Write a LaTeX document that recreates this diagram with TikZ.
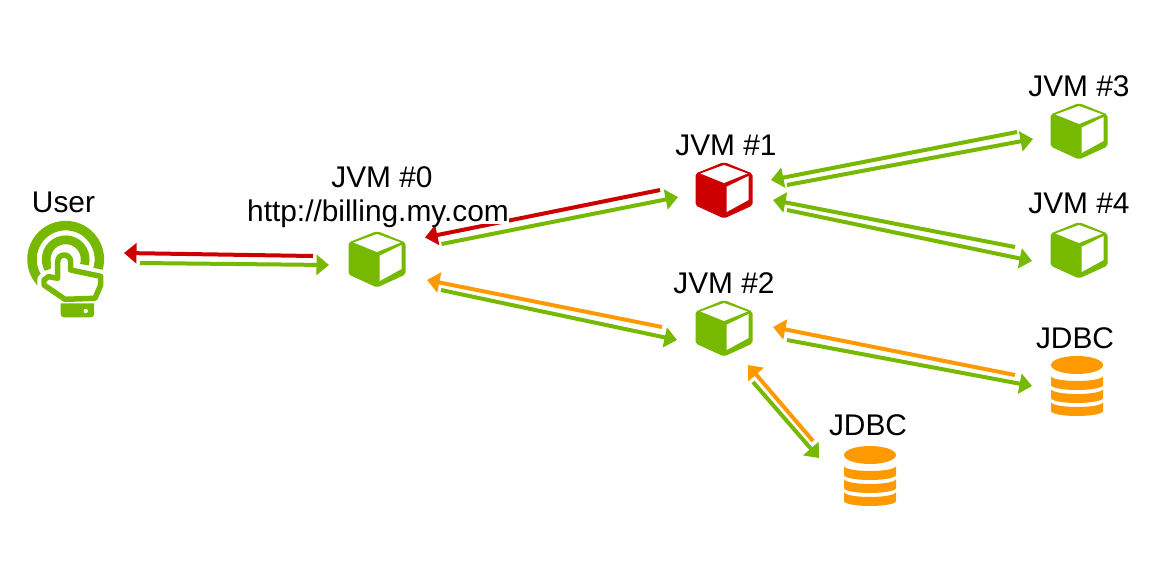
\documentclass[tikz,border=0pt]{standalone}
\usepackage{fontspec}
\setmainfont{Liberation Sans}
\usetikzlibrary{arrows.meta,calc}
\definecolor{nvgreen}{RGB}{118,185,0}
\definecolor{failred}{RGB}{204,0,0}
\definecolor{dbOrange}{RGB}{255,153,0}

\begin{document}
\begin{tikzpicture}[
  x=0.02cm,y=-0.02cm,
  iconbox/.style={inner sep=0pt,minimum size=1.1cm},
  caption/.style={font=\fontsize{17}{20}\selectfont,inner sep=0pt,text=black},
  link/.style={line width=0.08cm,-{Triangle[length=0.25cm,width=0.4cm]}},
  okline/.style={link,nvgreen},
  badline/.style={link,failred},
  slowline/.style={link,dbOrange},
  pics/cube/.style={code={
    \fill[#1,rounded corners=0.04cm] (0,-28) -- (28.5,-16.5) -- (28.5,15.5) -- (0,28.5) -- (-28.5,15.5) -- (-28.5,-16.5) -- cycle;
    \fill[white] (0,-25) -- (23.5,-16.5) -- (0,-7) -- (-23.5,-16.5) -- cycle;
    \fill[white] (2.7,-3.3) -- (24.5,-14) -- (24.5,10) -- (2.7,22) -- cycle;
  }},
  pics/dbstack/.style={code={
    \fill[dbOrange] (0,-21) ellipse [x radius=26,y radius=9];
    \foreach \s in {-10,3,16} {
      \fill[dbOrange] (-26,\s) arc [start angle=180,end angle=0,x radius=26,y radius=5]
        -- (26,\s+9) arc [start angle=0,end angle=180,x radius=26,y radius=5] -- cycle;
    }
  }},
  pics/touch/.style={code={
    \draw[nvgreen,line width=0.19cm] (130:33.7) arc [start angle=130,end angle=383,radius=33.7];
    \draw[nvgreen,line width=0.175cm] (149:19.5) arc [start angle=149,end angle=376,radius=19.5];
    % white halo, then the hand on top
    \def\handpath{(-8,15.7) -- (-8,2.2) arc [start angle=180,end angle=360,radius=6.5]
      -- (5,10.7) -- (35,17) -- (35,25.7) -- (29.3,39) -- (-0.7,40) -- (-21.7,25.7)
      -- (-21.7,20.7) -- (-17.3,17.3) -- (-8,19) -- cycle}
    \draw[white,fill=white,line width=0.27cm,line join=round] \handpath;
    \draw[nvgreen,fill=white,line width=0.11cm,line join=round] \handpath;
    \fill[nvgreen] (-5,44) -- (28.3,44) [rounded corners=0.06cm] -- (28.3,58) -- (-5,58) [sharp corners] -- cycle;
    \fill[white] (20,51.7) circle [radius=2.2];
  }}
]
\useasboundingbox (0,0) rectangle (1160,566);

% Icons
\node[iconbox] (user) at (65.7,259.3) {};
\node[iconbox] (jvm0) at (377,259) {};
\node[iconbox] (jvm1) at (724,190) {};
\node[iconbox] (jvm2) at (724,328) {};
\node[iconbox] (jvm3) at (1079,131) {};
\node[iconbox] (jvm4) at (1079,250) {};
\node[iconbox] (jdbc1) at (1077,386) {};
\node[iconbox] (jdbc2) at (870,476) {};

\pic at (user) {touch};
\pic at (jvm0) {cube=nvgreen};
\pic at (jvm1) {cube=failred};
\foreach \n in {jvm2,jvm3,jvm4} {
  \pic at (\n) {cube=nvgreen};
}
\foreach \n in {jdbc1,jdbc2} {
  \pic at (\n) {dbstack};
}

% Labels
\node[caption] (userlabel) at (63.5,202) {User};
\node[caption] (jvm0label) at (382,177) {JVM \#0};
\node[caption] (jvm1label) at (726,145) {JVM \#1};
\node[caption] (jvm2label) at (724,283) {JVM \#2};
\node[caption] (jvm3label) at (1079,86) {JVM \#3};
\node[caption] (jvm4label) at (1079,203) {JVM \#4};
\node[caption] (jdbc1label) at (1075,338) {JDBC};
\node[caption] (jdbc2label) at (868,425) {JDBC};

% User <-> JVM #0
\draw[badline] ($(jvm0)+(-64,-3)$) -- ($(user)+(58.3,-6.3)$);
\draw[okline] ($(user)+(74.3,3.7)$) -- ($(jvm0)+(-48,6)$);

% JVM #0 <-> JVM #1
\draw[badline] ($(jvm1)+(-64,0)$) -- ($(jvm0)+(48,-21.5)$);
\draw[okline] ($(jvm0)+(64.5,-15)$) -- ($(jvm1)+(-46,7)$);

% JVM #0 <-> JVM #2
\draw[slowline] ($(jvm2)+(-62,-1)$) -- ($(jvm0)+(50,21)$);
\draw[okline] ($(jvm0)+(64,31)$) -- ($(jvm2)+(-47,12)$);

% JVM #1 <-> JVM #3
\draw[okline] ($(jvm3)+(-62,1)$) -- ($(jvm1)+(47,-10)$);
\draw[okline] ($(jvm1)+(63,-5)$) -- ($(jvm3)+(-46,8)$);

% JVM #1 <-> JVM #4
\draw[okline] ($(jvm4)+(-64,-3)$) -- ($(jvm1)+(49,10)$);
\draw[okline] ($(jvm1)+(63,20)$) -- ($(jvm4)+(-47,11)$);

% JVM #2 <-> JDBC
\draw[slowline] ($(jdbc1)+(-62,-11)$) -- ($(jvm2)+(49,-1)$);
\draw[okline] ($(jvm2)+(63,12)$) -- ($(jdbc1)+(-45,0)$);
\draw[slowline] ($(jdbc2)+(-57,-35)$) -- ($(jvm2)+(24,37)$);
\draw[okline] ($(jvm2)+(29,54)$) -- ($(jdbc2)+(-51,-18)$);

% URL text sits on a white box, over the red line
\node[caption,fill=white,anchor=base,text depth=0.056cm] (urllabel) at (378,221.5) {http://billing.my.com};

\end{tikzpicture}
\end{document}
